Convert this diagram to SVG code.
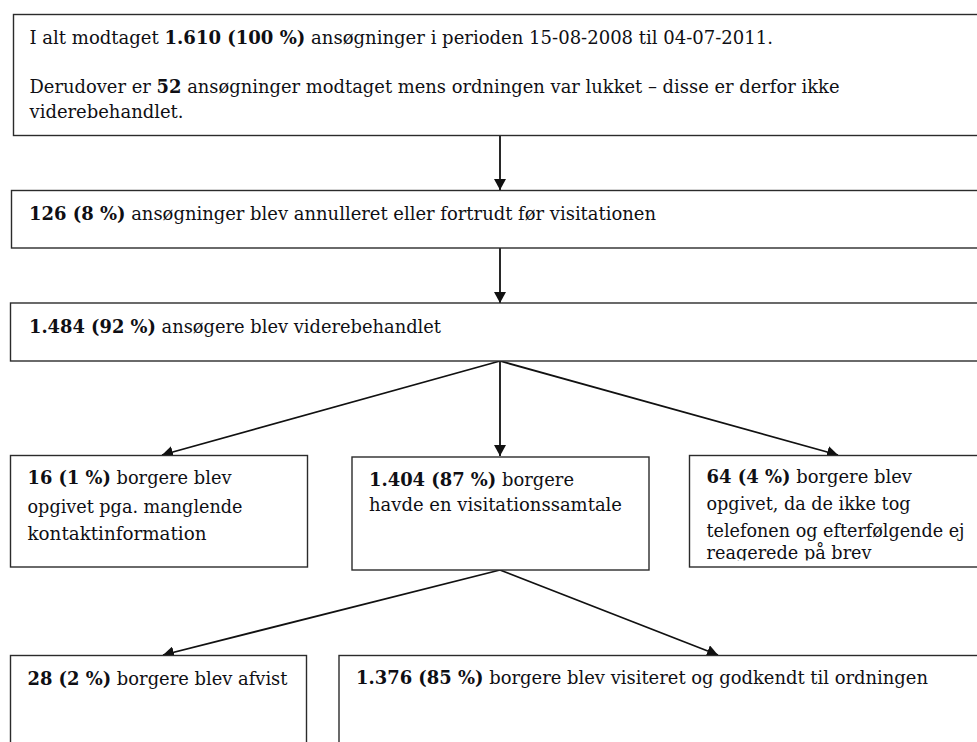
<svg xmlns="http://www.w3.org/2000/svg" width="977" height="742" viewBox="0 0 977 742">
<style>
  .box { fill: #ffffff; stroke: #2b2b2b; stroke-width: 1.4; }
  .t { font-family: "DejaVu Serif", "Liberation Serif", serif; font-size: 18px; fill: #0f0f14; }
  .b { font-weight: bold; }
  .conn { stroke: #111111; stroke-width: 1.8; fill: none; marker-end: url(#ah); }
</style>
<defs>
  <marker id="ah" markerUnits="userSpaceOnUse" markerWidth="11" markerHeight="12" refX="11" refY="6" orient="auto">
    <path d="M0,0 L11,6 L0,12 z" fill="#111111"/>
  </marker>
</defs>
<rect x="0" y="0" width="977" height="742" fill="#ffffff"/>

<g id="connectors">
  <line class="conn" x1="500" y1="135" x2="500" y2="190"/>
  <line class="conn" x1="500" y1="248" x2="500" y2="303"/>
  <line class="conn" x1="500" y1="361" x2="162" y2="455"/>
  <line class="conn" x1="500" y1="361" x2="500" y2="456"/>
  <line class="conn" x1="500" y1="361" x2="838" y2="455"/>
  <line class="conn" x1="500" y1="570" x2="163" y2="655"/>
  <line class="conn" x1="500" y1="570" x2="718" y2="655"/>
</g>

<g id="node-total">
  <rect class="box" x="13.5" y="14.5" width="980" height="121"/>
  <text class="t" x="29.5" y="43.5" textLength="743.5" lengthAdjust="spacingAndGlyphs">I alt modtaget <tspan class="b">1.610 (100 %)</tspan> ansøgninger i perioden 15-08-2008 til 04-07-2011.</text>
  <text class="t" x="29.5" y="92.5" textLength="810" lengthAdjust="spacingAndGlyphs">Derudover er <tspan class="b">52</tspan> ansøgninger modtaget mens ordningen var lukket – disse er derfor ikke</text>
  <text class="t" x="29.5" y="118" textLength="154" lengthAdjust="spacingAndGlyphs">viderebehandlet.</text>
</g>

<g id="node-annulleret">
  <rect class="box" x="11.5" y="190.5" width="980" height="57.5"/>
  <text class="t" x="29" y="220" textLength="627" lengthAdjust="spacingAndGlyphs"><tspan class="b">126 (8 %)</tspan> ansøgninger blev annulleret eller fortrudt før visitationen</text>
</g>

<g id="node-viderebehandlet">
  <rect class="box" x="10.5" y="303" width="980" height="58"/>
  <text class="t" x="29" y="333" textLength="412" lengthAdjust="spacingAndGlyphs"><tspan class="b">1.484 (92 %)</tspan> ansøgere blev viderebehandlet</text>
</g>

<g id="node-kontakt">
  <rect class="box" x="10.5" y="455.5" width="297" height="111.5"/>
  <text class="t" x="27.5" y="484" textLength="204" lengthAdjust="spacingAndGlyphs"><tspan class="b">16 (1 %)</tspan> borgere blev</text>
  <text class="t" x="27.5" y="512.5" textLength="215" lengthAdjust="spacingAndGlyphs">opgivet pga. manglende</text>
  <text class="t" x="27.5" y="540" textLength="179" lengthAdjust="spacingAndGlyphs">kontaktinformation</text>
</g>

<g id="node-samtale">
  <rect class="box" x="352" y="457" width="297" height="113"/>
  <text class="t" x="369" y="485.5" textLength="205" lengthAdjust="spacingAndGlyphs"><tspan class="b">1.404 (87 %)</tspan> borgere</text>
  <text class="t" x="369" y="510.5" textLength="253" lengthAdjust="spacingAndGlyphs">havde en visitationssamtale</text>
</g>

<g id="node-telefon">
  <rect class="box" x="689.5" y="455.5" width="300" height="111.5"/>
  <svg x="689" y="455" width="300" height="105.5" overflow="hidden">
    <text class="t" x="17.5" y="27.5" textLength="205.5" lengthAdjust="spacingAndGlyphs"><tspan class="b">64 (4 %)</tspan> borgere blev</text>
    <text class="t" x="17.5" y="55" textLength="204" lengthAdjust="spacingAndGlyphs">opgivet, da de ikke tog</text>
    <text class="t" x="17.5" y="81.5" textLength="258" lengthAdjust="spacingAndGlyphs">telefonen og efterfølgende ej</text>
    <text class="t" x="17.5" y="104" textLength="165" lengthAdjust="spacingAndGlyphs">reagerede på brev</text>
  </svg>
</g>

<g id="node-afvist">
  <rect class="box" x="10.5" y="655.5" width="296" height="100"/>
  <text class="t" x="27.5" y="685" textLength="260" lengthAdjust="spacingAndGlyphs"><tspan class="b">28 (2 %)</tspan> borgere blev afvist</text>
</g>

<g id="node-godkendt">
  <rect class="box" x="339" y="655.5" width="660" height="100"/>
  <text class="t" x="356" y="683.5" textLength="572" lengthAdjust="spacingAndGlyphs"><tspan class="b">1.376 (85 %)</tspan> borgere blev visiteret og godkendt til ordningen</text>
</g>
</svg>
